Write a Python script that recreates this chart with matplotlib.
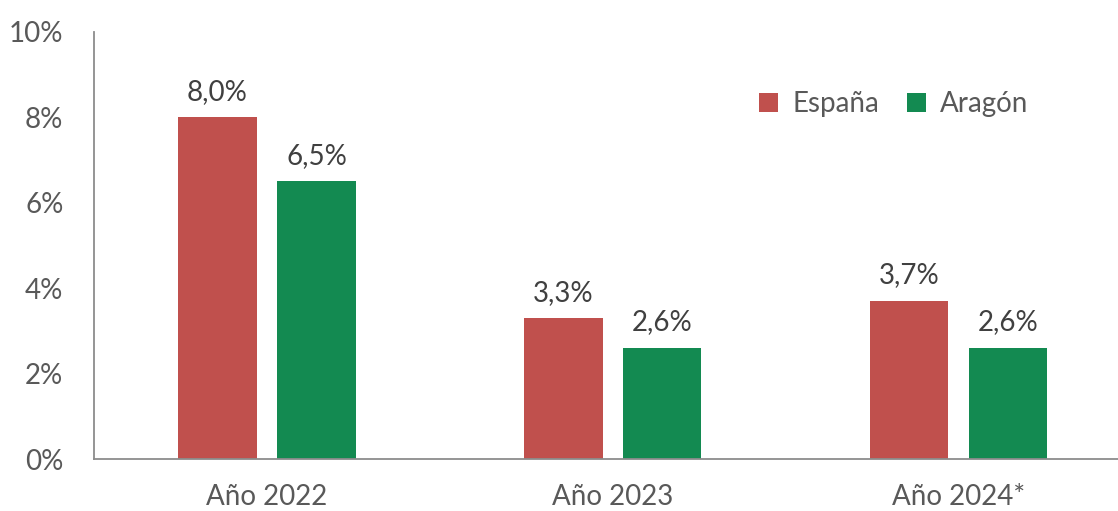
import numpy as np
import matplotlib.pyplot as plt

categorias = ["Año 2022", "Año 2023", "Año 2024*"]
espana = [8.0, 3.3, 3.7]
aragon = [6.5, 2.6, 2.6]
etiquetas_espana = ["8,0%", "3,3%", "3,7%"]
etiquetas_aragon = ["6,5%", "2,6%", "2,6%"]
yticks = [0, 2, 4, 6, 8, 10]
ytick_labels = ["0%", "2%", "4%", "6%", "8%", "10%"]

rojo = "#C0504D"
verde = "#138A51"
gris = "#595959"

plt.rcParams['font.family'] = ['Lato', 'DejaVu Sans']

fig = plt.figure(figsize=(11.18, 5.11), dpi=100)
ax = fig.add_axes([94 / 1118, 1 - 459 / 511, 1 - 94 / 1118, (459 - 32) / 511])

x = np.arange(len(categorias))
w = 0.226
off = 0.143
b1 = ax.bar(x - off, espana, w, color=rojo, label="España")
b2 = ax.bar(x + off, aragon, w, color=verde, label="Aragón")

for bars, labs in ((b1, etiquetas_espana), (b2, etiquetas_aragon)):
    for b, t in zip(bars, labs):
        ax.annotate(t, (b.get_x() + b.get_width() / 2, b.get_height()),
                    xytext=(0, 9), textcoords="offset points",
                    ha="center", va="bottom", fontsize=20, color="#404040")

ax.set_xlim(-0.5, 2.46)
ax.set_ylim(0, 10)
ax.set_yticks(yticks)
ax.set_yticklabels(ytick_labels)
ax.set_xticks(x)
ax.set_xticklabels(categorias)
ax.tick_params(axis="both", length=0, labelsize=20, labelcolor=gris)
ax.tick_params(axis="y", pad=22)
ax.tick_params(axis="x", pad=18)

for s in ("top", "right"):
    ax.spines[s].set_visible(False)
for s in ("left", "bottom"):
    ax.spines[s].set_color("#8C8C8C")
    ax.spines[s].set_linewidth(1.3)

leg = ax.legend(loc="upper left", bbox_to_anchor=(0.625, 0.92), ncol=2, frameon=False,
                fontsize=20, handlelength=0.7, handleheight=0.7,
                handletextpad=0.5, columnspacing=1.0, labelcolor=gris)

fig.savefig("out.png", dpi=100)
